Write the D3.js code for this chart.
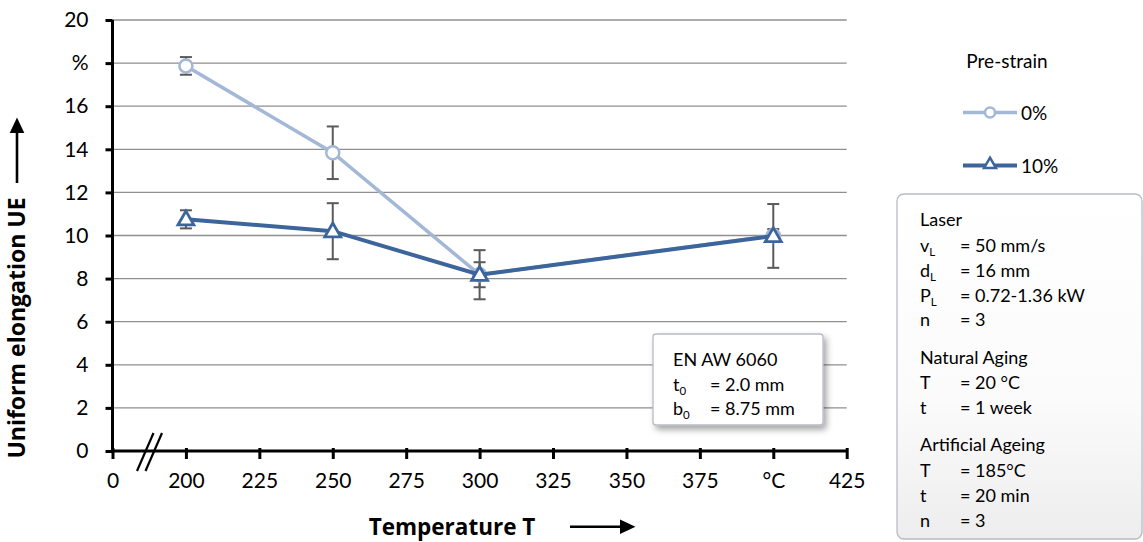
<!DOCTYPE html>
<html>
<head>
<meta charset="utf-8">
<script src="https://cdn.jsdelivr.net/npm/d3@7"></script>
<style>
  body { margin: 0; background: #fff; }
  svg { display: block; font-family: Lato, "Open Sans", sans-serif; }
</style>
</head>
<body>
<div id="chart"></div>
<script>
// data
const temps = [200, 250, 300, 400];
const ue0 = [17.87, 13.84, 8.18, 10.0];
const err0 = [0.41, 1.22, 1.14, 0.3];
const ue10 = [10.75, 10.2, 8.18, 9.98];
const err10 = [0.42, 1.3, 0.58, 1.48];

const xTicks = [175, 200, 225, 250, 275, 300, 325, 350, 375, 400, 425];
const xTickLabels = ["0", "200", "225", "250", "275", "300", "325", "350", "375", "°C", "425"];
const yTicks = [0, 2, 4, 6, 8, 10, 12, 14, 16, 18, 20];
const yTickLabels = ["0", "2", "4", "6", "8", "10", "12", "14", "16", "%", "20"];

const seriesNames = ["0%", "10%"];
const seriesColors = ["#a3b7d7", "#3c659c"];

const W = 1143, H = 542;
const svg = d3.select("#chart").append("svg").attr("width", W).attr("height", H);
const defs = svg.append("defs");

const x = d3.scaleLinear().domain([175, 425]).range([112.5, 846.7]);
const y = d3.scaleLinear().domain([0, 20]).range([451, 20]);

// grid lines
svg.append("g")
    .selectAll("line")
    .data(yTicks.filter(d => d > 0))
    .join("line")
    .attr("x1", x(175)).attr("x2", x(425))
    .attr("y1", d => y(d)).attr("y2", d => y(d))
    .attr("stroke", "#8f8f8f")
    .attr("stroke-width", 1.3);

// y axis
const yAxis = svg.append("g")
    .attr("transform", `translate(${x(175)},0)`)
    .call(d3.axisLeft(y).tickValues(yTicks).tickSize(7).tickPadding(17)
        .tickFormat((d, i) => yTickLabels[i]));
yAxis.select(".domain").attr("stroke", "#000").attr("stroke-width", 3).attr("d", `M0,${y(20)}V${y(0)}`);
yAxis.selectAll(".tick line").attr("stroke", "#000").attr("stroke-width", 3);
yAxis.selectAll("text").style("font-size", "21px").attr("fill", "#000").attr("font-family", "Lato, sans-serif");

// x axis
const xAxis = svg.append("g")
    .attr("transform", `translate(0,${y(0)})`)
    .call(d3.axisBottom(x).tickValues(xTicks).tickSize(8).tickPadding(14)
        .tickFormat((d, i) => xTickLabels[i]));
xAxis.select(".domain").attr("stroke", "#000").attr("stroke-width", 3).attr("d", `M${x(175)},0H${x(425)}`);
xAxis.selectAll(".tick line").attr("stroke", "#000").attr("stroke-width", 3).attr("y1", -3);
xAxis.selectAll("text").style("font-size", "21px").attr("fill", "#000").attr("font-family", "Lato, sans-serif");

// axis break
const brk = svg.append("g").attr("stroke", "#000").attr("stroke-width", 2.2);
[0, 8.5].forEach(dx => {
    brk.append("line")
        .attr("x1", 137 + dx).attr("y1", 471)
        .attr("x2", 153.5 + dx).attr("y2", 433);
});

// error bars
function drawErr(vals, errs) {
    const g = svg.append("g").attr("stroke", "#5a5a5a").attr("stroke-width", 2);
    temps.forEach((t, i) => {
        const cx = x(t), top = y(vals[i] + errs[i]), bot = y(vals[i] - errs[i]);
        g.append("line").attr("x1", cx).attr("x2", cx).attr("y1", top).attr("y2", bot);
        g.append("line").attr("x1", cx - 6).attr("x2", cx + 6).attr("y1", top).attr("y2", top);
        g.append("line").attr("x1", cx - 6).attr("x2", cx + 6).attr("y1", bot).attr("y2", bot);
    });
}
drawErr(ue0, err0);
drawErr(ue10, err10);

const line = d3.line().x(d => x(d[0])).y(d => y(d[1]));

// series 0%
svg.append("path")
    .datum(temps.map((t, i) => [t, ue0[i]]))
    .attr("d", line)
    .attr("fill", "none")
    .attr("stroke", seriesColors[0])
    .attr("stroke-width", 3.5);
svg.append("g").selectAll("circle")
    .data(temps.map((t, i) => [t, ue0[i]]))
    .join("circle")
    .attr("cx", d => x(d[0])).attr("cy", d => y(d[1]))
    .attr("r", 6.5)
    .attr("fill", "#fff")
    .attr("stroke", seriesColors[0])
    .attr("stroke-width", 2.5);

// series 10%
svg.append("path")
    .datum(temps.map((t, i) => [t, ue10[i]]))
    .attr("d", line)
    .attr("fill", "none")
    .attr("stroke", seriesColors[1])
    .attr("stroke-width", 4);
const tri = d3.symbol().type(d3.symbolTriangle).size(110);
svg.append("g").selectAll("path")
    .data(temps.map((t, i) => [t, ue10[i]]))
    .join("path")
    .attr("d", tri)
    .attr("transform", d => `translate(${x(d[0])},${y(d[1]) + 1})`)
    .attr("fill", "#fff")
    .attr("stroke", seriesColors[1])
    .attr("stroke-width", 2.8)
    .attr("stroke-linejoin", "miter");

// axis titles + arrows
const titleFont = "'Open Sans', Lato, sans-serif";
svg.append("text")
    .attr("x", 452).attr("y", 535)
    .attr("text-anchor", "middle")
    .attr("font-family", titleFont)
    .style("font-size", "22.5px").style("font-weight", "bold")
    .text("Temperature T");

svg.append("line")
    .attr("x1", 570).attr("y1", 526.7).attr("x2", 621).attr("y2", 526.7)
    .attr("stroke", "#000").attr("stroke-width", 2.6);
svg.append("path")
    .attr("d", "M620,519.4L635.5,526.7L620,534Z")
    .attr("fill", "#000");

svg.append("text")
    .attr("transform", "translate(25,328) rotate(-90)")
    .attr("text-anchor", "middle")
    .attr("font-family", titleFont)
    .style("font-size", "23px").style("font-weight", "bold")
    .text("Uniform elongation UE");

svg.append("line")
    .attr("x1", 17).attr("y1", 183).attr("x2", 17).attr("y2", 132)
    .attr("stroke", "#000").attr("stroke-width", 2.6);
svg.append("path")
    .attr("d", "M9.7,133L17,117.5L24.3,133Z")
    .attr("fill", "#000");

// legend
svg.append("text")
    .attr("x", 1007).attr("y", 68)
    .attr("text-anchor", "middle")
    .style("font-size", "19px")
    .text("Pre-strain");

const legY = [112.5, 165.5];
seriesNames.forEach((name, i) => {
    svg.append("line")
        .attr("x1", 963).attr("x2", 1017)
        .attr("y1", legY[i]).attr("y2", legY[i])
        .attr("stroke", seriesColors[i]).attr("stroke-width", i ? 4 : 3.5);
    if (i === 0) {
        svg.append("circle").attr("cx", 990).attr("cy", legY[i]).attr("r", 5)
            .attr("fill", "#fff").attr("stroke", seriesColors[i]).attr("stroke-width", 2.5);
    } else {
        svg.append("path").attr("d", d3.symbol().type(d3.symbolTriangle).size(60))
            .attr("transform", `translate(990,${legY[i] - 1})`)
            .attr("fill", "#fff").attr("stroke", seriesColors[i]).attr("stroke-width", 2.5);
    }
    svg.append("text")
        .attr("x", 1021).attr("y", legY[i] + 7)
        .style("font-size", "19px")
        .text(name);
});

// info boxes
const grad = defs.append("linearGradient").attr("id", "boxg")
    .attr("x1", 0).attr("y1", 0).attr("x2", 0).attr("y2", 1);
grad.append("stop").attr("offset", "0%").attr("stop-color", "#ffffff");
grad.append("stop").attr("offset", "60%").attr("stop-color", "#fbfbfb");
grad.append("stop").attr("offset", "100%").attr("stop-color", "#ededed");

const shadow = defs.append("filter").attr("id", "shd")
    .attr("x", "-10%").attr("y", "-10%").attr("width", "130%").attr("height", "140%");
shadow.append("feDropShadow")
    .attr("dx", 3).attr("dy", 4).attr("stdDeviation", 3)
    .attr("flood-color", "#000").attr("flood-opacity", 0.35);

function infoBox(bx, by, bw, bh, rows, opts) {
    const g = svg.append("g");
    g.append("rect")
        .attr("x", bx).attr("y", by).attr("width", bw).attr("height", bh)
        .attr("rx", opts.rx).attr("ry", opts.rx)
        .attr("fill", opts.fill)
        .attr("stroke", "#b7bcc4").attr("stroke-width", 1.3)
        .attr("filter", opts.shadow ? "url(#shd)" : null);
    rows.forEach(r => {
        const t = g.append("text")
            .attr("x", bx + opts.padX).attr("y", r.y)
            .style("font-size", "18px");
        if (r.sym) {
            t.append("tspan").text(r.sym);
            if (r.sub) t.append("tspan").attr("dy", 4).style("font-size", "11.5px").text(r.sub);
            g.append("text")
                .attr("x", bx + opts.padX + opts.eqX).attr("y", r.y)
                .style("font-size", "18px")
                .text(r.val);
        } else {
            t.text(r.val);
        }
    });
}

infoBox(653, 334, 170, 91, [
    { val: "EN AW 6060", y: 366 },
    { sym: "t", sub: "0", val: "= 2.0 mm", y: 391 },
    { sym: "b", sub: "0", val: "= 8.75 mm", y: 415 }
], { rx: 3, fill: "#fff", shadow: true, padX: 20, eqX: 37 });

infoBox(897, 194, 245, 345, [
    { val: "Laser", y: 226 },
    { sym: "v", sub: "L", val: "= 50 mm/s", y: 252 },
    { sym: "d", sub: "L", val: "= 16 mm", y: 277 },
    { sym: "P", sub: "L", val: "= 0.72-1.36 kW", y: 302 },
    { sym: "n", val: "= 3", y: 326 },
    { val: "Natural Aging", y: 364 },
    { sym: "T", val: "= 20 °C", y: 389 },
    { sym: "t", val: "= 1 week", y: 414 },
    { val: "Artificial Ageing", y: 451 },
    { sym: "T", val: "= 185°C", y: 477 },
    { sym: "t", val: "= 20 min", y: 502 },
    { sym: "n", val: "= 3", y: 527 }
], { rx: 7, fill: "url(#boxg)", shadow: false, padX: 23, eqX: 40 });
</script>
</body>
</html>
